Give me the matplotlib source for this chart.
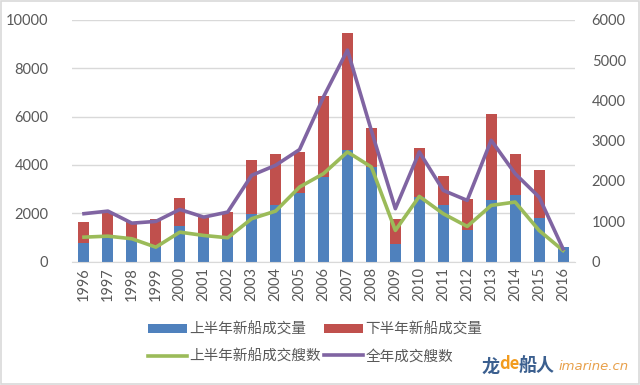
import matplotlib.pyplot as plt
import numpy as np
from matplotlib.patches import Rectangle

plt.rcParams['font.family'] = ['Noto Sans CJK SC', 'DejaVu Sans']

years = [str(y) for y in range(1996, 2017)]
# left axis: new-build volume (first half / second half)
h1_volume = [750, 1000, 870, 580, 1490, 1080, 1000, 1950, 2320, 2820, 3490,
             4600, 3910, 730, 2670, 2320, 1290, 2560, 2770, 1810, 590]
h2_volume = [900, 1030, 750, 1200, 1120, 790, 1030, 2240, 2120, 1700, 3370,
             4850, 1620, 1010, 2050, 1220, 1280, 3540, 1700, 1990, 0]
# right axis: number of ships
h1_ships = [605, 630, 565, 356, 729, 647, 590, 1063, 1252, 1850, 2183,
            2722, 2348, 772, 1618, 1187, 871, 1394, 1477, 772, 274]
year_ships = [1188, 1252, 953, 996, 1294, 1103, 1228, 2141, 2390, 2781, 4090,
              5253, 3250, 1312, 2722, 1767, 1518, 3012, 2183, 1601, 316]

labels = ["上半年新船成交量", "下半年新船成交量", "上半年新船成交艘数", "全年成交艘数"]
c_blue, c_red, c_green, c_purple = "#4F81BD", "#C0504D", "#9BBB59", "#8064A2"
txt = "#595959"

fig = plt.figure(figsize=(6.4, 3.85), dpi=100)
fig.patches.append(Rectangle((0.002, 0.003), 0.996, 0.994, transform=fig.transFigure,
                             fill=False, edgecolor="#d9d9d9", linewidth=1.2))

ax = fig.add_axes([72 / 640, 1 - 261.5 / 385, 503 / 640, 241.5 / 385])
ax2 = ax.twinx()

x = np.arange(len(years))
b1 = ax.bar(x, h1_volume, width=0.46, color=c_blue, zorder=2)
b2 = ax.bar(x, h2_volume, width=0.46, bottom=h1_volume, color=c_red, zorder=2)
(l1,) = ax2.plot(x, h1_ships, color=c_green, linewidth=2.6, solid_joinstyle="round")
(l2,) = ax2.plot(x, year_ships, color=c_purple, linewidth=2.6, solid_joinstyle="round")

ax.set_xlim(-0.5, len(years) - 0.5)
ax.set_ylim(0, 10000)
ax2.set_ylim(0, 6000)
ax.set_yticks(range(0, 10001, 2000))
ax2.set_yticks(range(0, 6001, 1000))
ax.set_xticks(x)
ax.set_xticklabels(years, rotation=90)
ax.yaxis.grid(True, color="#d9d9d9", linewidth=1)
ax.set_axisbelow(True)

for a in (ax, ax2):
    for s in a.spines.values():
        s.set_visible(False)
    a.tick_params(length=0, colors=txt)
    for lab in a.get_xticklabels() + a.get_yticklabels():
        lab.set_family("Lato")
        lab.set_fontsize(10.5)
ax.spines["bottom"].set_visible(True)
ax.spines["bottom"].set_color("#d9d9d9")
ax.tick_params(axis="y", pad=17)
ax2.tick_params(axis="y", pad=12)
ax.tick_params(axis="x", pad=4)

leg = fig.legend([b1, l1, b2, l2], [labels[0], labels[2], labels[1], labels[3]],
                 ncol=2, loc="center", bbox_to_anchor=(315 / 640, 1 - 343 / 385),
                 frameon=False, fontsize=10.5, handlelength=2.7, handleheight=0.55,
                 handletextpad=0.15, columnspacing=0.2, labelspacing=0.85,
                 labelcolor=txt)

# watermark
fig.text(482 / 640, 1 - 366 / 385, "龙", color="#3b5f8f", fontsize=13, fontweight="bold", va="center")
fig.text(499 / 640, 1 - 364 / 385, "de", color="#f29b1d", fontsize=12, fontweight="bold", va="center")
fig.text(519 / 640, 1 - 366 / 385, "船人", color="#3b5f8f", fontsize=13, fontweight="bold", va="center")
fig.text(559 / 640, 1 - 367 / 385, "imarine.cn", color="#e8a04a", fontsize=9.5, style="italic",
         va="center", family="DejaVu Sans")

fig.savefig("out.png", dpi=100)
